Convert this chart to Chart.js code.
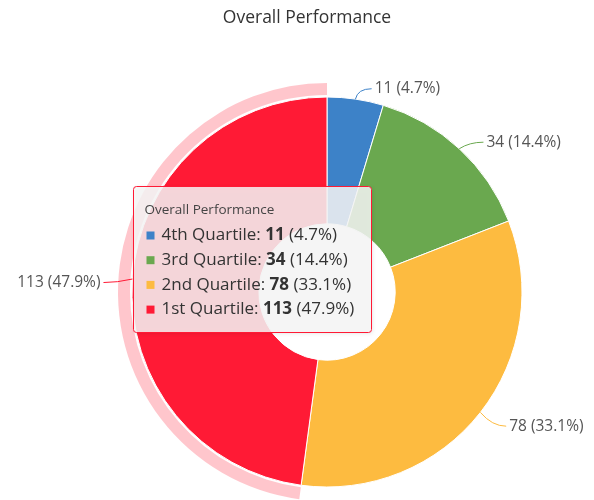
<!DOCTYPE html>
<html>
<head>
<meta charset="utf-8">
<script src="https://cdn.jsdelivr.net/npm/chart.js@4.4.1/dist/chart.umd.min.js"></script>
<style>
    html, body { margin: 0; padding: 0; background: #fff; }
    canvas { display: block; }
</style>
</head>
<body>
<canvas id="myChart" width="594" height="500"></canvas>
<script>
const chartTitle = 'Overall Performance';
const categories = ['4th Quartile', '3rd Quartile', '2nd Quartile', '1st Quartile'];
const values = [11, 34, 78, 113];
const colors = ['#3d82c8', '#6aa84f', '#fdbb40', '#ff1a35'];
const hoveredIndex = 3;

const FONT = '"Open Sans", "Noto Sans", sans-serif';
const total = values.reduce(function (a, b) { return a + b; }, 0);
function pct(v) {
    return (v / total * 100).toFixed(1) + '%';
}
function rgba(hex, a) {
    const n = parseInt(hex.slice(1), 16);
    return 'rgba(' + (n >> 16) + ',' + ((n >> 8) & 255) + ',' + (n & 255) + ',' + a + ')';
}

document.addEventListener('DOMContentLoaded', function () {
    const ctx = document.getElementById('myChart').getContext('2d');

    new Chart(ctx, {
        type: 'doughnut',
        data: {
            labels: categories,
            datasets: [{
                data: values,
                backgroundColor: colors,
                borderColor: '#ffffff',
                borderWidth: 1,
                hoverOffset: 0,
                radius: 195,
                cutout: 68
            }]
        },
        options: {
            responsive: false,
            animation: false,
            events: [],
            layout: {
                padding: { left: 132, right: 72, top: 97, bottom: 13 }
            },
            plugins: {
                legend: { display: false },
                tooltip: { enabled: false },
                title: { display: false }
            }
        },
        plugins: [{
            // chart title
            afterDraw: function (chart) {
                const c = chart.ctx;
                c.save();
                c.font = '17.5px ' + FONT;
                c.fillStyle = '#333333';
                c.textAlign = 'center';
                c.textBaseline = 'middle';
                c.fillText(chartTitle, chart.chartArea.left + 175, 18);
                c.restore();
            }
        }, {
            // hover halo behind the active slice
            beforeDatasetsDraw: function (chart) {
                const arc = chart.getDatasetMeta(0).data[hoveredIndex];
                const c = chart.ctx;
                c.save();
                c.fillStyle = rgba(colors[hoveredIndex], 0.25);
                c.beginPath();
                c.arc(arc.x, arc.y, arc.outerRadius + 14, arc.startAngle, arc.endAngle);
                c.arc(arc.x, arc.y, arc.outerRadius + 2, arc.endAngle, arc.startAngle, true);
                c.closePath();
                c.fill();
                c.restore();
            }
        }, {
            // outside data labels with connectors
            afterDatasetsDraw: function (chart) {
                const c = chart.ctx;
                const meta = chart.getDatasetMeta(0);
                meta.data.forEach(function (arc, i) {
                    const mid = (arc.startAngle + arc.endAngle) / 2;
                    const r = arc.outerRadius;
                    const cos = Math.cos(mid), sin = Math.sin(mid);
                    const side = cos >= 0 ? 1 : -1;
                    const sx = arc.x + cos * r;
                    const sy = arc.y + sin * r;
                    const ex = arc.x + cos * (r + 15);
                    const ey = arc.y + sin * (r + 15) + 4.5;
                    const hx = ex + side * 14;
                    c.save();
                    c.strokeStyle = colors[i];
                    c.lineWidth = 1;
                    c.beginPath();
                    c.moveTo(sx, sy);
                    c.quadraticCurveTo(ex, ey, hx, ey);
                    c.stroke();
                    c.font = '15.5px ' + FONT;
                    c.fillStyle = '#555555';
                    c.textBaseline = 'middle';
                    c.textAlign = side > 0 ? 'left' : 'right';
                    c.fillText(values[i] + ' (' + pct(values[i]) + ')', hx + side * 3, ey);
                    c.restore();
                });
            }
        }, {
            // tooltip for the hovered slice
            afterDraw: function (chart) {
                const c = chart.ctx;
                const bx = 133.5, by = 186.5, bw = 238, bh = 146;
                c.save();
                c.shadowColor = 'rgba(0,0,0,0.12)';
                c.shadowBlur = 4;
                c.shadowOffsetX = 1;
                c.shadowOffsetY = 1;
                c.fillStyle = 'rgba(247,247,247,0.85)';
                c.beginPath();
                c.roundRect(bx, by, bw, bh, 3);
                c.fill();
                c.shadowColor = 'transparent';
                c.strokeStyle = colors[hoveredIndex];
                c.lineWidth = 1;
                c.stroke();

                c.textBaseline = 'middle';
                c.textAlign = 'left';
                c.fillStyle = '#444444';
                c.font = '13.5px ' + FONT;
                c.fillText(chartTitle, bx + 11, by + 24);

                categories.forEach(function (cat, i) {
                    const y = by + 49 + i * 24.7;
                    c.fillStyle = colors[i];
                    c.fillRect(bx + 13, y - 4, 8, 8);
                    let x = bx + 28;
                    c.fillStyle = '#333333';
                    c.font = '17px ' + FONT;
                    const head = cat + ': ';
                    c.fillText(head, x, y);
                    x += c.measureText(head).width;
                    c.font = 'bold 17px ' + FONT;
                    const val = String(values[i]);
                    c.fillText(val, x, y);
                    x += c.measureText(val).width;
                    c.font = '17px ' + FONT;
                    c.fillText(' (' + pct(values[i]) + ')', x, y);
                });
                c.restore();
            }
        }]
    });
});
</script>
</body>
</html>
